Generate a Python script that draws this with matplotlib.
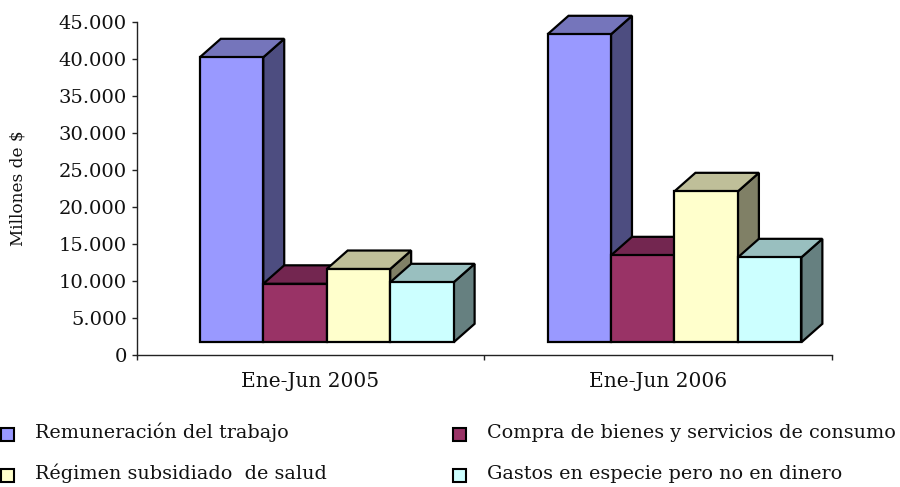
import matplotlib
matplotlib.use('Agg')
import matplotlib.pyplot as plt
from matplotlib.patches import Polygon, Rectangle

plt.rcParams['font.family'] = ['DejaVu Serif']

categories = ['Ene-Jun 2005', 'Ene-Jun 2006']
series_names = ['Remuneración del trabajo', 'Compra de bienes y servicios de consumo',
                'Régimen subsidiado  de salud', 'Gastos en especie pero no en dinero']
remuneracion = [40270, 43380]
compra = [9660, 13510]
regimen = [11660, 22160]
gastos = [9865, 13240]
y_ticks = [0, 5000, 10000, 15000, 20000, 25000, 30000, 35000, 40000, 45000]
y_tick_labels = ['0', '5.000', '10.000', '15.000', '20.000', '25.000', '30.000', '35.000', '40.000', '45.000']

fronts = ['#9999FF', '#993366', '#FFFFCC', '#CCFFFF']
tops = ['#7575BB', '#732650', '#BFBF99', '#99BFBF']
sides = ['#4D4D80', '#4D1A33', '#808066', '#668080']

W, H = 900, 487
fig = plt.figure(figsize=(W / 100, H / 100), dpi=100)
ax = fig.add_axes([136.5 / W, (H - 355.3) / H, 695.5 / W, 333 / H])

# 3D look: floor offset and depth of the boxes, in data units
floor = 1757
depth_x = 0.0603
depth_y = 2500
bar_w = 0.1825
shift = 0.047

all_series = [remuneracion, compra, regimen, gastos]
for c in range(len(categories)):
    center = c + 0.5 + shift
    for s, values in enumerate(all_series):
        x0 = center + (s - 2) * bar_w
        x1 = x0 + bar_w
        v = values[c]
        z = 3 + c * 10 + s
        style = dict(edgecolor='black', linewidth=1.6, joinstyle='miter', clip_on=False, zorder=z)
        ax.add_patch(Polygon([(x1, floor), (x1 + depth_x, floor + depth_y),
                              (x1 + depth_x, v + depth_y), (x1, v)], facecolor=sides[s], **style))
        ax.add_patch(Polygon([(x0, v), (x0 + depth_x, v + depth_y),
                              (x1 + depth_x, v + depth_y), (x1, v)], facecolor=tops[s], **style))
        ax.add_patch(Rectangle((x0, floor), bar_w, v - floor, facecolor=fronts[s], **style))

ax.set_xlim(0, 2)
ax.set_ylim(0, 45000)
ax.set_yticks(y_ticks)
ax.set_yticklabels(y_tick_labels, fontsize=14, color='#111111')
ax.set_xticks([0, 1, 2])
ax.set_xticklabels([])
ax.tick_params(axis='both', length=3.5, width=1, pad=3.5, color='#222222')
for c, name in enumerate(categories):
    ax.annotate(name, xy=(c + 0.5, 0), xytext=(0, -32), textcoords='offset pixels',
                ha='center', va='baseline', fontsize=14.5, color='#111111')

for side in ['top', 'right']:
    ax.spines[side].set_visible(False)
for side in ['left', 'bottom']:
    ax.spines[side].set_linewidth(1)
    ax.spines[side].set_color('#222222')

fig.text(18 / W, 1 - 188 / H, 'Millones de $', rotation=90, ha='center', va='center',
         fontsize=12.2, color='#111111')

# legend drawn by hand, two columns
legend_x = [0.5, 453]
legend_y = [428, 469]
for i, name in enumerate(series_names):
    col = i % 2
    row = i // 2
    fig.add_artist(Rectangle((legend_x[col] / W, 1 - (legend_y[row] + 13) / H), 13 / W, 13 / H,
                             transform=fig.transFigure, facecolor=fronts[i],
                             edgecolor='black', linewidth=1.5))
    fig.text((legend_x[col] + (34.5 if col == 0 else 34)) / W, 1 - (legend_y[row] + 10) / H, name,
             ha='left', va='baseline', fontsize=13.8, color='#111111')

fig.savefig('out.png', dpi=100)
